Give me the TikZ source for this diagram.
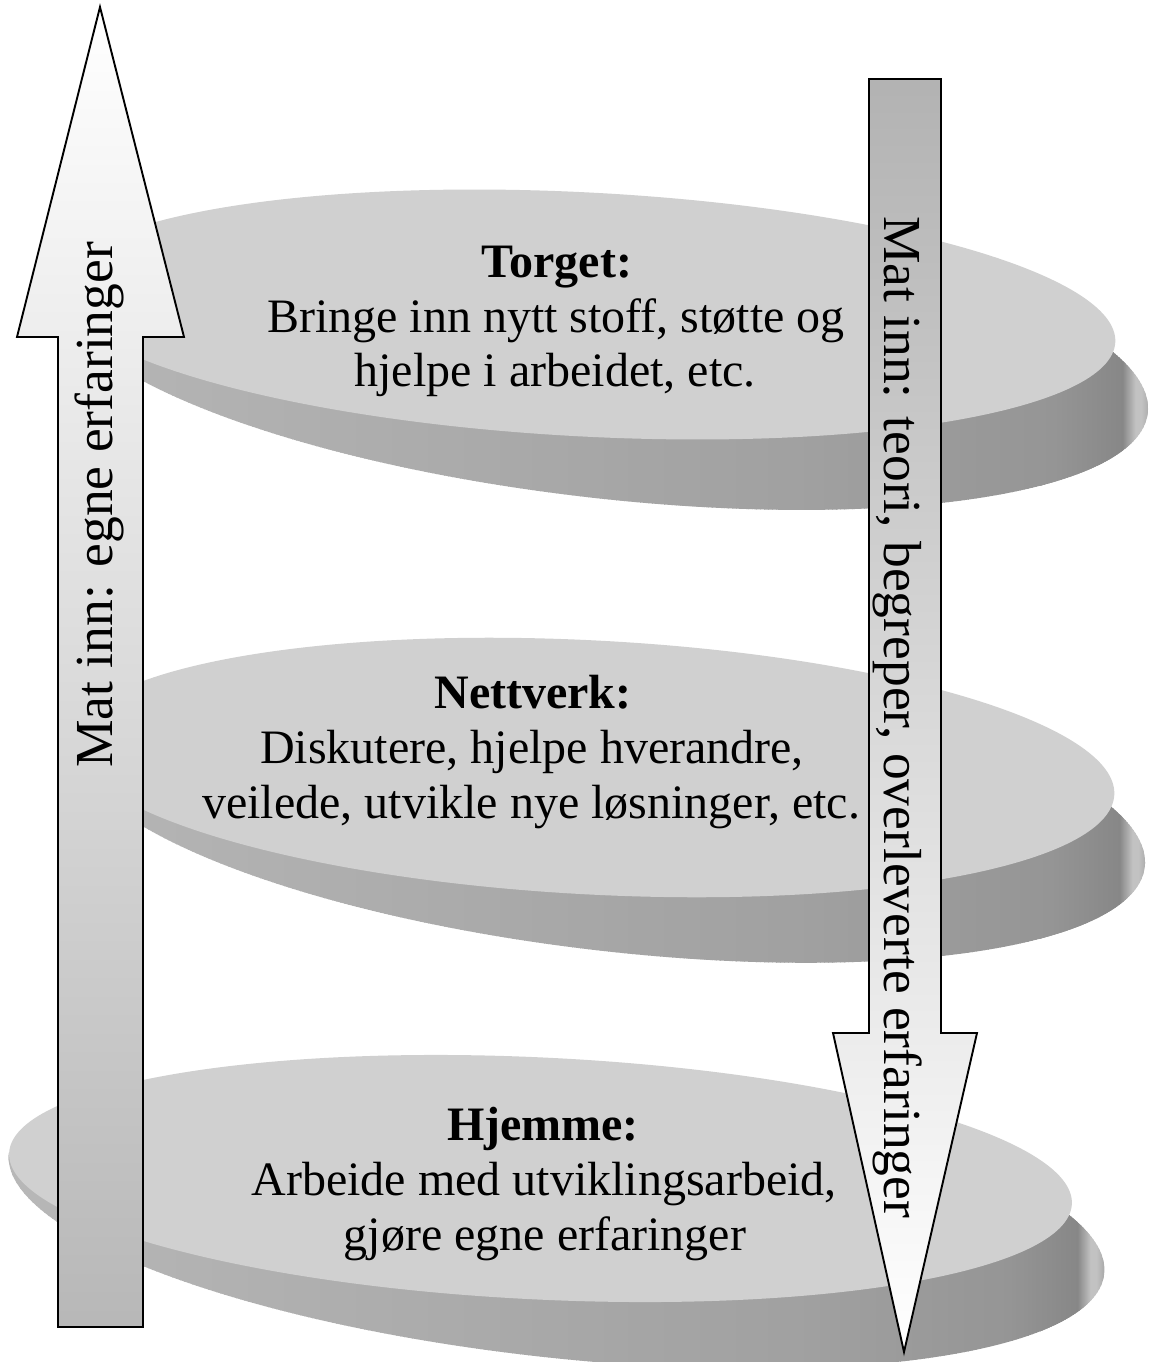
\documentclass[tikz,border=0pt]{standalone}
\usepackage{fontspec}
\setmainfont{Liberation Serif}
\usetikzlibrary{calc}

\definecolor{facegray}{gray}{0.816}
\definecolor{upgray}{gray}{0.72}
\definecolor{downgray}{gray}{0.70}

\tikzset{
  topface/.style={fill=facegray},
  bigarrow/.style={draw=black, line width=1.9pt, line join=miter},
  disctitle/.style={font=\fontsize{48}{54}\bfseries\selectfont, anchor=base, inner sep=0pt},
  disctext/.style={font=\fontsize{48}{54}\selectfont, anchor=base, inner sep=0pt},
  arrowtext/.style={font=\fontsize{53.5}{60}\selectfont, inner sep=0pt},
}

% grey level of a disc's side band at horizontal position #1, rim at #2
\newcommand{\bandgray}[2]{%
  \pgfmathsetmacro\bandg{%
    (#1<450) ? (0.72-0.05*#1/450) :
    ((#1<800) ? (0.67-0.04*(#1-450)/350) :
    ((#1<#2-95) ? (0.63-0.045*(#1-800)/(#2-95-800)) :
    ((#1<#2-26) ? (0.585-0.055*(#1-#2+95)/69) :
    ((#1<#2-13) ? (0.53+0.23*(#1-#2+26)/13) :
    ((#1<#2-7) ? 0.76 : (0.76-0.16*(#1-#2+7)/13))))))}%
  \definecolor{bandcol}{gray}{\bandg}%
}

% One disc.
% #1 top-face centre, #2 rx, #3 ry, #4 tilt (deg, clockwise)
% #5 side-band centre, #6 rx, #7 ry, #8 tilt, #9 x of the band's right rim
\newcommand{\discshape}[9]{%
  \begin{scope}
    \clip[rotate around={-#4:(#1)}] ($(#1)+(-700,0)$) rectangle ($(#1)+(700,320)$);
    \clip[rotate around={-#8:(#5)}] (#5) ellipse[x radius=#6pt, y radius=#7pt];
    % side band, painted in narrow vertical strips
    \foreach \sx in {0,4,...,1040}{
      \pgfmathsetmacro\sxx{\sx+2}
      \bandgray{\sxx}{#9}
      \fill[bandcol] (\sx,0) rectangle (\sx+4.8,1362);
    }
    \foreach \sx in {1040,1041,...,1160}{
      \pgfmathsetmacro\sxx{\sx+0.5}
      \bandgray{\sxx}{#9}
      \fill[bandcol] (\sx,0) rectangle (\sx+1.6,1362);
    }
  \end{scope}
  \fill[topface, rotate around={-#4:(#1)}] (#1) ellipse[x radius=#2pt, y radius=#3pt];
}

\begin{document}
\begin{tikzpicture}[x=1pt, y=-1pt]
  \useasboundingbox (0,0) rectangle (1155,1362);
  \fill[white] (0,0) rectangle (1155,1362);

  % the three levels
  \discshape{586,314.5}{530}{122}{3}{602.4,349.9}{549}{148}{6.6}{1149}
  \discshape{593,767.5}{522}{127}{3}{608.5,803.6}{540}{147}{6.74}{1146}
  \discshape{540.5,1178.5}{532}{121}{2.75}{556.5,1213.5}{551}{144}{6.3}{1104}

  % upward arrow on the left
  \coordinate (uptip) at (100,7);
  \draw[bigarrow, shading=axis, top color=white, bottom color=upgray]
    (uptip) -- (184,337) -- (143,337) -- (143,1327) -- (58,1327) -- (58,337) -- (17,337) -- cycle;

  % downward arrow on the right
  \coordinate (downtip) at (904,1352);
  \draw[bigarrow, shading=axis, top color=downgray, bottom color=white]
    (869,79) -- (941,79) -- (941,1033) -- (977,1033) -- (downtip) -- (833,1033) -- (869,1033) -- cycle;

  % arrow labels
  \node[arrowtext, rotate=90] (uplabel) at (99,505) {Mat inn: egne erfaringer};
  \node[arrowtext, rotate=-90] (downlabel) at (898,717) {Mat inn: teori, begreper, overleverte erfaringer};

  % Torget
  \node[disctitle] (torget) at (557,277) {Torget:};
  \node[disctext] (torget1) at (556,332) {Bringe inn nytt stoff, støtte og};
  \node[disctext] (torget2) at (555,386) {hjelpe i arbeidet, etc.};

  % Nettverk
  \node[disctitle] (nettverk) at (533,708) {Nettverk:};
  \node[disctext] (nettverk1) at (532,763) {Diskutere, hjelpe hverandre,};
  \node[disctext] (nettverk2) at (531,818) {veilede, utvikle nye løsninger, etc.};

  % Hjemme
  \node[disctitle] (hjemme) at (543,1140) {Hjemme:};
  \node[disctext] (hjemme1) at (544,1195) {Arbeide med utviklingsarbeid,};
  \node[disctext] (hjemme2) at (545,1250) {gjøre egne erfaringer};
\end{tikzpicture}
\end{document}
